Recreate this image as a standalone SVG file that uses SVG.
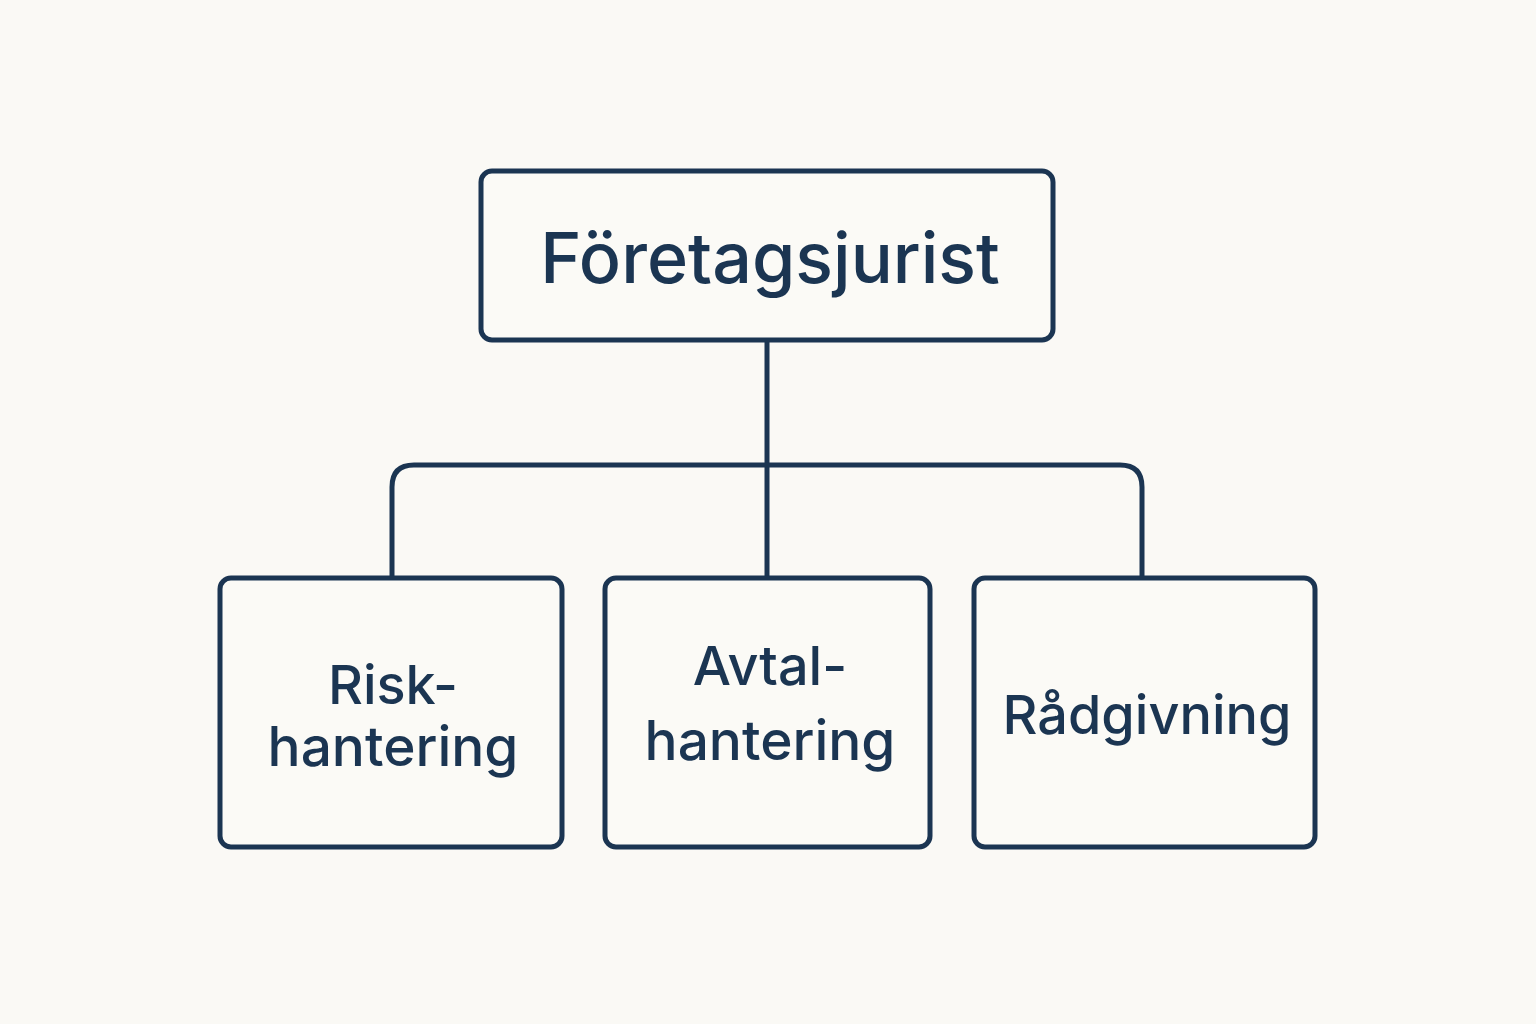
<svg xmlns="http://www.w3.org/2000/svg" width="1536" height="1024" viewBox="0 0 1536 1024">
<style>
.box{fill:#fbfaf6;stroke:#1b3552;stroke-width:5}
.ln{fill:none;stroke:#1b3552;stroke-width:5}
.t{font-family:Inter,"Noto Sans",sans-serif;fill:#1b3552;text-anchor:middle;font-weight:500}
</style>
<rect width="1536" height="1024" fill="#faf9f5"/>
<g id="connectors">
<path class="ln" d="M767 340V577"/>
<path class="ln" d="M392 577V487Q392 465 414 465H1120Q1142 465 1142 487V577"/>
</g>
<g id="root"><rect class="box" x="481" y="171" width="572" height="169" rx="11"/>
<text class="t" x="770" y="283" font-size="70" font-weight="600">Företagsjurist</text></g>
<g id="risk"><rect class="box" x="220" y="578" width="342" height="269" rx="11"/>
<text class="t" x="393" y="704" font-size="54">Risk-</text>
<text class="t" x="393" y="766" font-size="55">hantering</text></g>
<g id="avtal"><rect class="box" x="605" y="578" width="325" height="269" rx="11"/>
<text class="t" x="770" y="685" font-size="54">Avtal-</text>
<text class="t" x="770" y="760" font-size="55">hantering</text></g>
<g id="rad"><rect class="box" x="974" y="578" width="341" height="269" rx="11"/>
<text class="t" x="1147" y="734" font-size="54">Rådgivning</text></g>
</svg>
